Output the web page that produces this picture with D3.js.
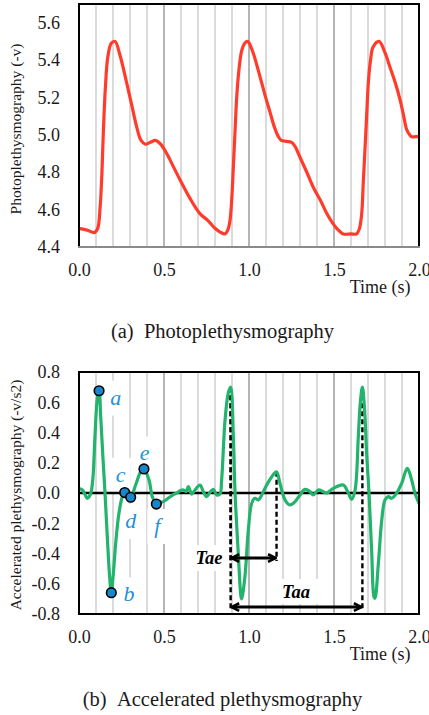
<!DOCTYPE html>
<html><head><meta charset="utf-8">
<script src="https://cdn.jsdelivr.net/npm/d3@7"></script>
<style>
body{margin:0;background:#fff}
svg{display:block}
text{font-family:"Liberation Serif","Times New Roman",serif}
</style>
</head><body>
<svg id="c" width="429" height="715"></svg>
<script>
// ---------------- data ----------------
const ppgTime = [0.00,0.05,0.09,0.11,0.124,0.135,0.143,0.155,0.17,0.19,0.212,0.24,0.28,0.31,0.34,0.365,0.39,0.42,0.45,0.48,0.516,0.555,0.594,0.653,0.71,0.76,0.80,0.83,0.859,0.875,0.888,0.90,0.908,0.918,0.927,0.94,0.957,0.975,0.992,1.02,1.065,1.095,1.124,1.15,1.173,1.19,1.22,1.25,1.27,1.30,1.34,1.378,1.42,1.457,1.49,1.516,1.555,1.60,1.633,1.65,1.663,1.672,1.682,1.692,1.702,1.715,1.73,1.765,1.80,1.83,1.86,1.888,1.91,1.927,1.945,1.957,1.98,2.00];
const ppgValue = [4.50,4.49,4.477,4.50,4.61,4.80,5.01,5.25,5.42,5.49,5.50,5.43,5.28,5.16,5.04,4.97,4.95,4.96,4.97,4.95,4.90,4.83,4.76,4.66,4.58,4.54,4.50,4.48,4.47,4.49,4.54,4.68,4.83,5.02,5.19,5.34,5.45,5.49,5.50,5.45,5.31,5.21,5.12,5.04,4.99,4.97,4.965,4.96,4.94,4.88,4.80,4.72,4.65,4.58,4.53,4.50,4.47,4.47,4.47,4.50,4.58,4.74,4.92,5.10,5.28,5.40,5.47,5.50,5.44,5.36,5.28,5.19,5.10,5.03,5.00,4.99,4.99,4.99];

const apgTime = [0.000,0.02,0.035,0.049,0.062,0.072,0.082,0.095,0.108,0.118,0.128,0.140,0.153,0.166,0.180,0.190,0.200,0.216,0.235,0.255,0.269,0.286,0.304,0.333,0.363,0.382,0.412,0.431,0.455,0.48,0.496,0.53,0.555,0.575,0.595,0.614,0.63,0.643,0.663,0.682,0.712,0.731,0.751,0.771,0.79,0.81,0.829,0.839,0.859,0.878,0.892,0.908,0.918,0.937,0.953,0.957,0.976,0.996,1.016,1.035,1.055,1.075,1.104,1.134,1.162,1.182,1.212,1.241,1.271,1.30,1.329,1.359,1.378,1.408,1.437,1.457,1.496,1.555,1.584,1.604,1.624,1.643,1.655,1.667,1.68,1.692,1.706,1.722,1.735,1.741,1.761,1.781,1.80,1.82,1.839,1.869,1.898,1.931,1.957,1.976,2.00];
const apgValue = [0.03,0.02,-0.01,-0.035,-0.02,0.01,0.10,0.40,0.63,0.676,0.50,0.25,0.0,-0.28,-0.55,-0.659,-0.56,-0.33,-0.134,-0.024,0.003,-0.01,-0.028,0.053,0.141,0.159,0.086,-0.024,-0.073,-0.062,-0.057,-0.03,-0.01,0.0,0.015,0.02,0.01,0.042,-0.007,0.02,0.053,0.009,-0.024,0.005,0.024,-0.013,-0.007,0.086,0.48,0.66,0.70,0.372,0.0,-0.40,-0.686,-0.70,-0.553,-0.245,-0.068,-0.035,-0.046,-0.013,0.053,0.108,0.14,0.064,-0.046,-0.079,-0.057,-0.013,0.024,0.009,-0.013,0.02,0.009,0.0,0.031,0.053,0.0,-0.042,0.02,0.372,0.60,0.70,0.55,0.262,0.0,-0.40,-0.686,-0.696,-0.465,-0.178,-0.046,-0.024,-0.035,0.0,0.064,0.163,0.086,0.0,-0.068];

const pointName  = ["a","b","c","d","e","f"];
const pointTime  = [0.118,0.190,0.269,0.304,0.382,0.455];
const pointValue = [0.676,-0.659,0.003,-0.028,0.159,-0.073];

const intervalName  = ["Tae","Taa"];
const intervalStart = [0.892,0.892];
const intervalEnd   = [1.162,1.667];
const intervalLevel = [-0.43,-0.754];
const intervalPeak  = [[0.70,0.14],[0.70,0.70]];

const xTicks   = [0.0,0.5,1.0,1.5,2.0];
const gridTimes = [0.1,0.2,0.3,0.4,0.5,0.6,0.7,0.8,0.9,1.0,1.1,1.2,1.3,1.4,1.5,1.6,1.7,1.8,1.9];
const ppgTicks = [4.4,4.6,4.8,5.0,5.2,5.4,5.6];
const apgTicks = [-0.8,-0.6,-0.4,-0.2,0.0,0.2,0.4,0.6,0.8];

// ---------------- layout ----------------
const svg = d3.select("#c");
const L = 79, R = 419;
const P1 = {top:4, bottom:247};
const P2 = {top:372, bottom:614};
const fmt = v => (Math.abs(v) < 1e-9 ? "0.0" : v.toFixed(1));
const x = d3.scaleLinear().domain([0,2]).range([L,R]);
const y1 = d3.scaleLinear().domain([4.4,5.7]).range([P1.bottom,P1.top]);
const y2 = d3.scaleLinear().domain([-0.8,0.8]).range([P2.bottom,P2.top]);

svg.append("defs").append("marker")
  .attr("id","arr").attr("viewBox","0 0 10 10").attr("refX",9).attr("refY",5)
  .attr("markerWidth",10).attr("markerHeight",10).attr("markerUnits","userSpaceOnUse")
  .attr("orient","auto-start-reverse")
  .append("path").attr("d","M1.5,1.2 L9,5 L1.5,8.8").attr("fill","none")
  .attr("stroke","#000").attr("stroke-width",2.6).attr("stroke-linejoin","miter");

function frame(P, y, ticks, title, titleY, bottomColor){
  const g = svg.append("g");
  g.selectAll("line.grid").data(gridTimes).enter().append("line")
    .attr("x1",d=>x(d)).attr("x2",d=>x(d)).attr("y1",P.top).attr("y2",P.bottom)
    .attr("stroke",d=>Math.abs(d*2-Math.round(d*2))<1e-6 ? "#8e8e8e" : "#c8c8c8")
    .attr("stroke-width",1.3);
  // y axis labels
  const ya = d3.axisLeft(y).tickValues(ticks).tickSize(0).tickPadding(19).tickFormat(fmt);
  const ag = svg.append("g").attr("transform",`translate(${L},0)`).call(ya);
  ag.select(".domain").remove();
  ag.selectAll("text").attr("font-size",18).attr("fill","#1a1a1a")
    .attr("font-family","'Liberation Serif',serif");
  // x axis labels
  const xa = d3.axisBottom(x).tickValues(xTicks).tickSize(0).tickPadding(0).tickFormat(fmt);
  const xg = svg.append("g").attr("transform",`translate(0,${P.bottom})`).call(xa);
  xg.select(".domain").remove();
  xg.selectAll("text").attr("font-size",18).attr("fill","#1a1a1a")
    .attr("font-family","'Liberation Serif',serif").attr("dy",null).attr("y",29);
  svg.append("text").attr("x",410.5).attr("y",P.bottom+45.5).attr("text-anchor","end")
    .attr("font-size",18).attr("fill","#1a1a1a").text("Time (s)");
  svg.append("text").attr("transform",`translate(20.5,${titleY}) rotate(-90)`)
    .attr("text-anchor","middle").attr("font-size",15.5).attr("fill","#1a1a1a").text(title);
  return g;
}
function border(P, bottomColor){
  const g = svg.append("g").attr("fill","none");
  g.append("path").attr("d",`M${L},${P.bottom}V${P.top}H${R}V${P.bottom}`)
    .attr("stroke","#000").attr("stroke-width",2);
  g.append("line").attr("x1",L-1).attr("x2",R+1).attr("y1",P.bottom).attr("y2",P.bottom)
    .attr("stroke",bottomColor).attr("stroke-width",2);
}

// ---------------- chart (a) ----------------
frame(P1, y1, ppgTicks, "Photoplethysmography (-v)", 129);
const ppg = ppgTime.map((t,i)=>[t,ppgValue[i]]);
svg.append("path").datum(ppg)
  .attr("d",d3.line().x(d=>x(d[0])).y(d=>y1(d[1])).curve(d3.curveCatmullRom.alpha(0.5)))
  .attr("fill","none").attr("stroke","#ff3b2b").attr("stroke-width",3.2)
  .attr("stroke-linejoin","round");
border(P1,"#8a8a8a");

svg.append("text").attr("x",222.5).attr("y",338).attr("text-anchor","middle")
  .attr("font-size",20.5).attr("fill","#1a1a1a").text("(a)\u2002Photoplethysmography");

// ---------------- chart (b) ----------------
frame(P2, y2, apgTicks, "Accelerated plethysmography (-v/s2)", 495);

const labelOff = {a:[16.7,13.8], b:[17.7,8.8], c:[-4,-10.8], d:[0,30.7], e:[0.7,-8.5], f:[1,29]};
const pts = pointName.map((n,i)=>({n, t:pointTime[i], v:pointValue[i]}));
// white label boxes (hide gridlines behind text)
svg.selectAll("rect.lb").data(pts).enter().append("rect")
  .attr("x",d=>x(d.t)+labelOff[d.n][0]-10).attr("width",20)
  .attr("y",d=>y2(d.v)+labelOff[d.n][1]-24).attr("height",35).attr("fill","#fff");
const ivs = intervalName.map((n,i)=>({n, s:intervalStart[i], e:intervalEnd[i], lv:intervalLevel[i], pk:intervalPeak[i]}));
// Tae / Taa text boxes
const ivText = {Tae:{cx:209, by:564}, Taa:{cx:296, by:598}};
svg.append("rect").attr("x",185).attr("y",545).attr("width",43).attr("height",26).attr("fill","#fff");
svg.append("rect").attr("x",268).attr("y",579).attr("width",58).attr("height",25).attr("fill","#fff");

// zero line
svg.append("line").attr("x1",L).attr("x2",R).attr("y1",y2(0)).attr("y2",y2(0))
  .attr("stroke","#000").attr("stroke-width",2.6);

// dashed guide lines
ivs.forEach(iv=>{
  [[iv.s,iv.pk[0]],[iv.e,iv.pk[1]]].forEach(([t,v])=>{
    svg.append("line").attr("x1",x(t)).attr("x2",x(t)).attr("y1",y2(v)).attr("y2",y2(iv.lv)+3)
      .attr("stroke","#000").attr("stroke-width",2.4).attr("stroke-dasharray","5,3");
  });
});

const apg = apgTime.map((t,i)=>[t,apgValue[i]]);
svg.append("path").datum(apg)
  .attr("d",d3.line().x(d=>x(d[0])).y(d=>y2(d[1])).curve(d3.curveCatmullRom.alpha(0.5)))
  .attr("fill","none").attr("stroke","#22b46c").attr("stroke-width",3.2)
  .attr("stroke-linejoin","round");

// arrows
ivs.forEach(iv=>{
  svg.append("line").attr("x1",x(iv.s)+1).attr("x2",x(iv.e)-1).attr("y1",y2(iv.lv)).attr("y2",y2(iv.lv))
    .attr("stroke","#000").attr("stroke-width",3)
    .attr("marker-start","url(#arr)").attr("marker-end","url(#arr)");
  svg.append("text").attr("x",ivText[iv.n].cx).attr("y",ivText[iv.n].by).attr("text-anchor","middle")
    .attr("font-size",18.5).attr("font-weight","bold").attr("font-style","italic")
    .attr("fill","#000").text(iv.n);
});

// markers
svg.selectAll("circle.pt").data(pts).enter().append("circle")
  .attr("cx",d=>x(d.t)).attr("cy",d=>y2(d.v)).attr("r",4.8)
  .attr("fill","#1687cc").attr("stroke","#000").attr("stroke-width",1.6);
svg.selectAll("text.pt").data(pts).enter().append("text")
  .attr("x",d=>x(d.t)+labelOff[d.n][0]).attr("y",d=>y2(d.v)+labelOff[d.n][1])
  .attr("text-anchor","middle").attr("font-size",22).attr("font-style","italic")
  .attr("fill","#2392d6").text(d=>d.n);

border(P2,"#000");

svg.append("text").attr("x",222.5).attr("y",706).attr("text-anchor","middle")
  .attr("font-size",20.5).attr("fill","#1a1a1a").text("(b)\u2002Accelerated plethysmography");
</script>
</body></html>
